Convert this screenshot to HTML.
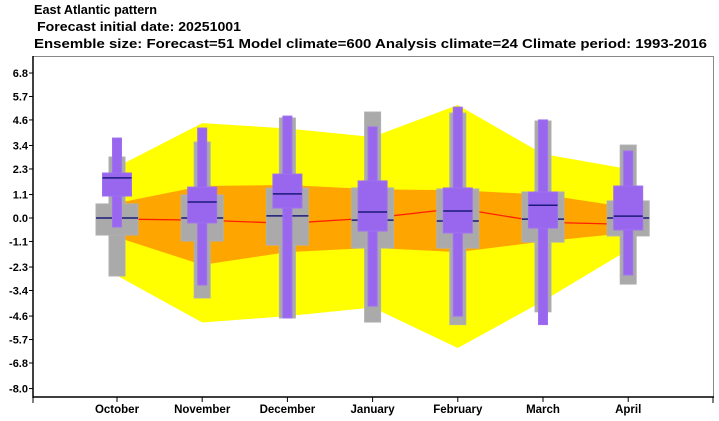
<!DOCTYPE html>
<html><head><meta charset="utf-8"><style>
body{margin:0;background:#fff;}
svg{display:block;font-family:"Liberation Sans",sans-serif;}
</style></head><body>
<svg id="chart" width="719" height="421">
<text x="34" y="14" font-size="13" font-weight="bold" textLength="123" lengthAdjust="spacingAndGlyphs">East Atlantic pattern</text>
<text x="37" y="31" font-size="13" font-weight="bold" textLength="204" lengthAdjust="spacingAndGlyphs">Forecast initial date: 20251001</text>
<text x="34" y="48" font-size="13" font-weight="bold" textLength="673" lengthAdjust="spacingAndGlyphs">Ensemble size: Forecast=51 Model climate=600 Analysis climate=24    Climate period: 1993-2016</text>
<g id="plot"></g>
</svg>
<script>
const months=["October","November","December","January","February","March","April"];
const yTicks=[6.8,5.7,4.6,3.4,2.3,1.1,0.0,-1.1,-2.3,-3.4,-4.6,-5.7,-6.8,-8.0];
const yellowHi=[2.4,4.45,4.2,3.8,5.3,3.0,2.3];
const yellowLo=[-2.7,-4.9,-4.6,-4.2,-6.1,-3.9,-1.5];
const orangeHi=[0.7,1.5,1.55,1.35,1.3,1.1,0.5];
const orangeLo=[-0.9,-2.2,-1.6,-1.4,-1.6,-1.1,-0.7];
const redLine=[-0.05,-0.1,-0.25,0.0,0.45,-0.2,-0.3];
const climMin=[-2.72,-3.75,-4.69,-4.88,-5.0,-4.4,-3.1];
const climQ1=[-0.8,-1.08,-1.27,-1.41,-1.41,-1.13,-0.84];
const climMed=[0,0,0.1,-0.1,-0.14,-0.05,0];
const climQ3=[0.66,1.08,1.4,1.41,1.36,1.22,0.8];
const climMax=[2.86,3.56,4.69,4.97,4.92,4.55,3.42];
const fcMin=[-0.42,-3.14,-4.69,-4.13,-4.6,-5.0,-2.67];
const fcQ1=[1.03,-0.23,0.47,-0.61,-0.7,-0.47,-0.56];
const fcMed=[1.88,0.75,1.13,0.28,0.33,0.6,0.09];
const fcQ3=[2.11,1.45,2.06,1.74,1.41,1.22,1.5];
const fcMax=[3.75,4.22,4.78,4.27,5.2,4.6,3.14];

const NS="http://www.w3.org/2000/svg";
const g=document.getElementById("plot");
const X0=117,DX=85.2;
function xs(i){return X0+i*DX;}
function ys(v){return 218-v*21.32;}
function mk(t,a,name){const e=document.createElementNS(NS,t);for(const k in a)e.setAttribute(k,a[k]);


g.appendChild(e);return e;}
function band(hi,lo,fill,name){let p=hi.map((v,i)=>xs(i)+","+ys(v));for(let i=lo.length-1;i>=0;i--)p.push(xs(i)+","+ys(lo[i]));
mk("polygon",{points:p.join(" "),fill:fill},name);}
band(yellowHi,yellowLo,"#ffff00","yellow-band");
band(orangeHi,orangeLo,"#ffa500","orange-band");
mk("polyline",{points:redLine.map((v,i)=>xs(i)+","+ys(v)).join(" "),fill:"none",stroke:"#ff2000","stroke-width":1.3},"analysis-line");
function rect(x1,x2,v1,v2,fill,stroke,name){const a=ys(v1),b=ys(v2);mk("rect",{x:x1,y:Math.min(a,b),width:x2-x1,height:Math.abs(a-b),fill:fill,stroke:stroke,"stroke-width":1},name);}
months.forEach((m,i)=>{const c=xs(i);
rect(c-8,c+8,climMin[i],climMax[i],"#aaaaaa","#b0b0b0","clim-whisker-"+i);
rect(c-21,c+21,climQ1[i],climQ3[i],"#aaaaaa","#b0b0b0","clim-box-"+i);
mk("line",{x1:c-21,x2:c+21,y1:ys(climMed[i]),y2:ys(climMed[i]),stroke:"#1a1a7a","stroke-width":1.5},"clim-median-"+i);
rect(c-4.5,c+4.5,fcMin[i],fcMax[i],"#9966ee","#a070f0","fc-whisker-"+i);
rect(c-14.5,c+14.5,fcQ1[i],fcQ3[i],"#9966ee","#a070f0","fc-box-"+i);
mk("line",{x1:c-14.5,x2:c+14.5,y1:ys(fcMed[i]),y2:ys(fcMed[i]),stroke:"#1a1a7a","stroke-width":1.5},"fc-median-"+i);
mk("line",{x1:c,x2:c,y1:397,y2:402,stroke:"#000","stroke-width":1},"x-tick-"+i);
const t=mk("text",{x:c,y:413,"text-anchor":"middle","font-size":"11.5","font-weight":"bold"},"x-label-"+i);t.textContent=m;});
yTicks.forEach((v,i)=>{const y=ys(v);
mk("line",{x1:29,x2:33,y1:y,y2:y,stroke:"#000","stroke-width":1},"y-tick-"+i);
const t=mk("text",{x:28,y:y+4,"text-anchor":"end","font-size":"11","font-weight":"bold"},"y-label-"+i);t.textContent=v.toFixed(1);});
mk("line",{x1:33,x2:714,y1:56.5,y2:56.5,stroke:"#888","stroke-width":1},"top-border");
mk("line",{x1:713.5,x2:713.5,y1:56,y2:397,stroke:"#888","stroke-width":1},"right-border");
mk("line",{x1:33,x2:33,y1:56,y2:398,stroke:"#000","stroke-width":1.5},"y-axis");
mk("line",{x1:33,x2:714,y1:397,y2:397,stroke:"#000","stroke-width":1.5},"x-axis");
mk("line",{x1:33,x2:33,y1:397,y2:403,stroke:"#000","stroke-width":1},"x-tick-start");
mk("line",{x1:713,x2:713,y1:397,y2:403,stroke:"#000","stroke-width":1},"x-tick-end");
</script>
</body></html>
